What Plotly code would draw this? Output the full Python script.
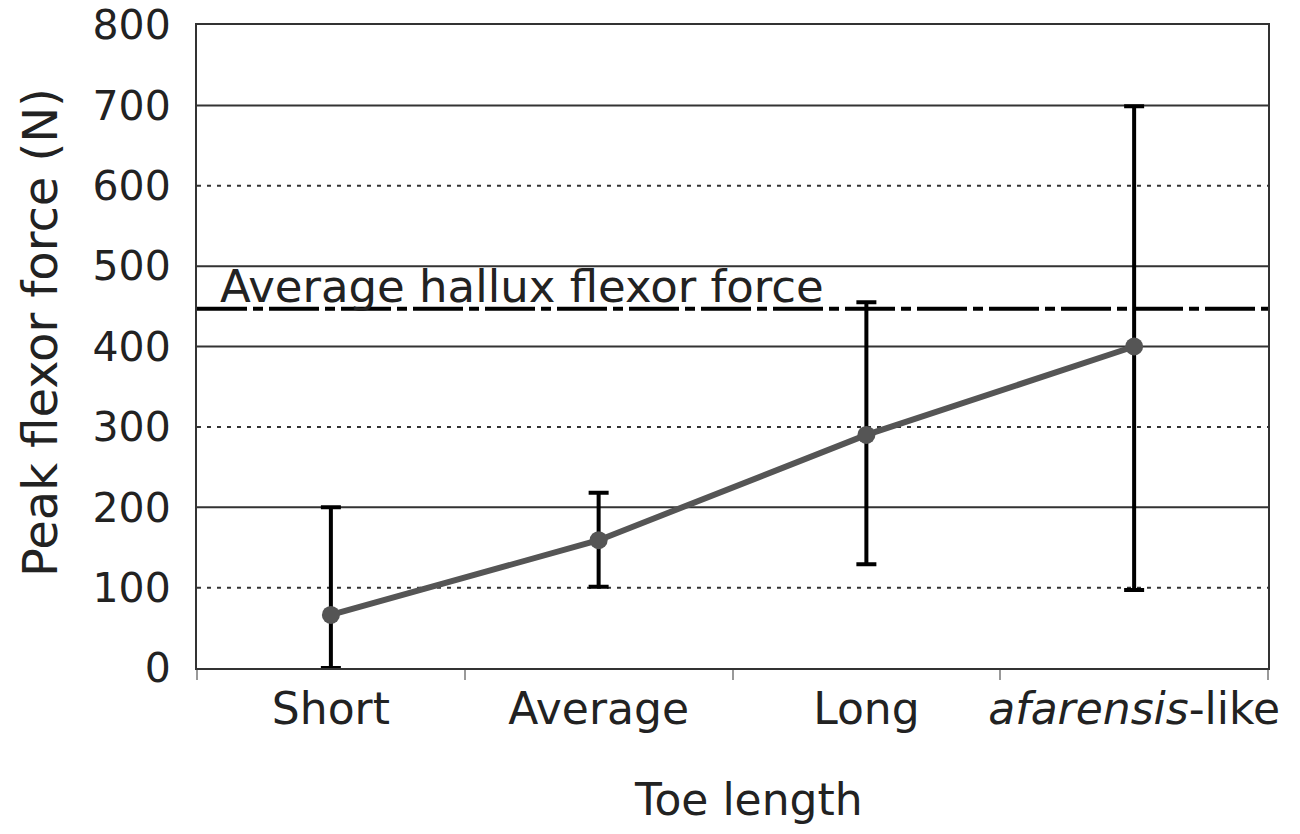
import plotly.graph_objects as go

# ---- data ----
categories = ["Short", "Average", "Long", "<i>afarensis</i>-like"]
peak_force = [66, 159, 290, 400]
upper_bound = [200, 218, 455, 699]
lower_bound = [0, 101, 129, 97]
hallux_average = 447
y_ticks = [0, 100, 200, 300, 400, 500, 600, 700, 800]
grid_levels = [100, 200, 300, 400, 500, 600, 700]
grid_dash = ["4px,6px", "solid", "4px,6px", "solid", "solid", "4px,6px", "solid"]

err_plus = [u - v for u, v in zip(upper_bound, peak_force)]
err_minus = [v - l for v, l in zip(peak_force, lower_bound)]

FONT = "DejaVu Sans"
TXT = "#222222"

fig = go.Figure()

fig.add_trace(go.Scatter(
    x=categories, y=peak_force,
    mode="lines+markers",
    line=dict(color="#555555", width=6),
    marker=dict(color="#555555", size=18),
    error_y=dict(type="data", symmetric=False, array=err_plus, arrayminus=err_minus,
                 color="#000000", thickness=4, width=10),
    showlegend=False,
    cliponaxis=False,
))

shapes = []
for lvl, d in zip(grid_levels, grid_dash):
    shapes.append(dict(type="line", xref="paper", x0=0, x1=1, yref="y", y0=lvl, y1=lvl,
                       line=dict(color="#333333", width=2, dash=d), layer="below"))
shapes.append(dict(type="line", xref="paper", x0=0, x1=1, yref="y",
                   y0=hallux_average, y1=hallux_average,
                   line=dict(color="#000000", width=4, dash="50px,6px,10px,6px"), layer="above"))

fig.update_layout(
    width=1300, height=834,
    margin=dict(l=189, r=40, t=17, b=174, autoexpand=False),
    paper_bgcolor="white", plot_bgcolor="white",
    font=dict(family=FONT, color=TXT),
    shapes=shapes,
    xaxis=dict(
        type="category", range=[-0.5, 3.5],
        showline=True, mirror=True, linecolor="#333333", linewidth=2,
        showgrid=False, zeroline=False,
        tickson="boundaries", ticks="outside", ticklen=10, tickwidth=2, tickcolor="#999999",
        tickfont=dict(family=FONT, size=44, color=TXT),
        tickangle=0, automargin=False, ticklabeloverflow="allow",
        ticklabelstandoff=1,
    ),
    yaxis=dict(
        range=[0, 800], tickvals=y_ticks, automargin=False, ticklabeloverflow="allow",
        showline=True, mirror=True, linecolor="#333333", linewidth=2,
        showgrid=False, zeroline=False, ticks="",
        tickfont=dict(family=FONT, size=41, color=TXT),
        ticklabelstandoff=16,
    ),
    annotations=[
        dict(text="Average hallux flexor force", xref="paper", x=0.0196, xanchor="left",
             yref="y", y=475, yanchor="middle", showarrow=False,
             font=dict(family=FONT, size=45, color=TXT)),
        dict(text="Toe length", xref="paper", x=0.5145, xanchor="center",
             yref="paper", y=-0.205, yanchor="middle", showarrow=False,
             font=dict(family=FONT, size=44, color=TXT)),
        dict(text="Peak flexor force (N)", xref="paper", x=-0.146, xanchor="center",
             yref="paper", y=0.522, yanchor="middle", textangle=-90, showarrow=False,
             font=dict(family=FONT, size=48, color=TXT)),
    ],
)

fig.write_html("out.html")
